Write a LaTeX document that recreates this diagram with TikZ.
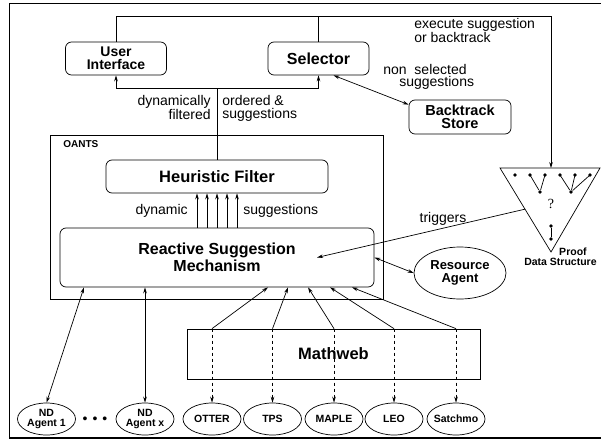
\documentclass[tikz,border=0pt]{standalone}
\usepackage{fontspec}
\setmainfont{Liberation Sans}
\newfontfamily\serifq{Liberation Serif}
\usetikzlibrary{shapes.geometric, positioning, calc, arrows.meta}

\begin{document}
\begin{tikzpicture}[x=1pt, y=-1pt, line width=0.7pt,
    >={Stealth[length=6pt, width=3.6pt]},
    box/.style={draw, rounded corners=6pt, align=center, inner sep=0pt},
    agent/.style={draw, ellipse, minimum width=58pt, minimum height=32pt, inner xsep=-4pt, inner ysep=0pt, align=center, font={\fontsize{10.5}{10}\selectfont\bfseries}},
    lbl/.style={inner sep=0pt, font={\fontsize{14}{13}\selectfont}},
    pt/.style={circle, fill, inner sep=0pt, minimum size=3.8pt}
    ]

    \useasboundingbox (0,0) rectangle (601,441);

    % Frame
    \draw (606,3) -| (9,438);
    \draw[line width=1.4pt] (9,438) -- (606,438);

    % Top boxes
    \node[box, minimum width=101pt, minimum height=33pt, font={\fontsize{14}{13}\selectfont\bfseries}] (ui) at (116,58.5) {User\\Interface};
    \node[box, minimum width=101pt, minimum height=33pt, font={\fontsize{16}{16}\selectfont\bfseries}] (sel) at (318.5,58.5) {Selector};
    \node[box, minimum width=102pt, minimum height=34pt, font={\fontsize{14.5}{13.5}\selectfont\bfseries}] (bt) at (460,117) {Backtrack\\Store};

    % OANTS
    \node[draw, minimum width=333pt, minimum height=164pt, inner sep=0pt] (oants) at (216.5,217) {};
    \node[anchor=base west, inner sep=0pt, font={\fontsize{10}{10}\selectfont\bfseries}] (oantsname) at (63,147) {OANTS};
    \node[box, minimum width=222pt, minimum height=33pt, font={\fontsize{16.5}{16.5}\selectfont\bfseries}] (hf) at (217,176.5) {Heuristic Filter};
    \node[box, minimum width=314pt, minimum height=59pt, font={\fontsize{16}{17}\selectfont\bfseries}] (rsm) at (217,257.5) {Reactive Suggestion\\Mechanism};

    \node[draw, ellipse, minimum width=92pt, minimum height=52pt, inner sep=0pt, align=center, font={\fontsize{13}{13}\selectfont\bfseries}] (ra) at (460,273) {Resource\\Agent};
    \node[draw, minimum width=293pt, minimum height=50pt, font={\fontsize{16.5}{16.5}\selectfont\bfseries}] (mw) at (333.5,354) {Mathweb};

    % Agents
    \node[agent] (nd1) at (46.5,419) {ND\\Agent 1};
    \node[inner sep=0pt, font={\fontsize{14}{14}\selectfont}] (more) at (95,420) {\textbullet\hspace{5pt}\textbullet\hspace{5pt}\textbullet};
    \node[agent] (ndx) at (145,419) {ND\\Agent x};
    \node[agent] (otter) at (212,419) {OTTER};
    \node[agent] (tps) at (272.5,419) {TPS};
    \node[agent] (maple) at (334,419) {MAPLE};
    \node[agent] (leo) at (394,419) {LEO};
    \node[agent] (satchmo) at (456,419) {Satchmo};

    % Proof data structure
    \coordinate (tl) at (500,168);
    \coordinate (tr) at (600,168);
    \coordinate (tip) at (551,252);
    \draw (tl) -- (tr) -- (tip) -- cycle;
    \coordinate (pdtop) at (551,168);
    \coordinate (pdleft) at ($(tl)!0.49!(tip)$);
    \foreach \x in {515,530,545,560,575,590}
        \node[pt] at (\x,175) {};
    \node[pt] (ja) at (540,192) {};
    \node[pt] (jb) at (571,192) {};
    \draw (530,175) -- (ja) -- (545,175);
    \draw (560,175) -- (jb) -- (575,175);
    \draw (jb) -- (590,175);
    \node[pt] (ba) at (551,226) {};
    \node[pt] (bb) at (551,239) {};
    \draw (ba) -- (bb);
    \node[inner sep=0pt, font={\serifq\fontsize{14}{14}\selectfont}] (q) at (551,204) {?};
    \node[anchor=north east, align=right, inner sep=0pt, font={\fontsize{10.5}{10}\selectfont\bfseries}] (pdname) at (597,248) {Proof\hspace*{10pt}\\Data Structure};

    % Arrows
    \draw[->] (ui.north) |- (551,16) -- (pdtop);
    \draw (sel.north) -- ++(0,-26);
    \coordinate (split) at (217,88);
    \draw (hf.north) -- (split);
    \draw[->] (split) -| (ui.south);
    \draw[->] (split) -| (sel.south);
    \draw[<->] ($(sel.south)+(15,0)$) -- ($(bt.north west)+(0,5)$);
    \foreach \d in {-20,-10,0,10,20}
        \draw[->] ($(rsm.north)+(\d,0)$) -- ($(hf.south)+(\d,0)$);
    \draw[->] (pdleft) -- ($(rsm.center)+(100,0)$);
    \draw[<->] (rsm.east) -- (ra.west);
    \draw[<->] (nd1.north) -- ($(rsm.south)+(-133,0)$);
    \draw[<->] (ndx.north) -- (rsm.south -| ndx);
    \foreach \p/\o in {otter/51, tps/71, maple/91, leo/113, satchmo/135} {
        \draw[->] (mw.north -| \p) -- ($(rsm.south)+(\o,0)$);
        \draw[->, dashed] (mw.north -| \p) -- (\p.north);
    }

    % Labels
    \node[lbl, anchor=north east, align=right] (dynfilt) at (211,95) {dynamically\\filtered};
    \node[lbl, anchor=north west, align=left] (ordsugg) at (222,95) {ordered \&\\suggestions};
    \node[lbl, anchor=north west, align=left, font={\fontsize{14}{12.5}\selectfont}] (exec) at (414,18) {execute suggestion\\or backtrack};
    \node[lbl, anchor=north west, align=left, font={\fontsize{14}{12.5}\selectfont}] (nonsel) at (383,64) {non\ \ selected\\\hspace*{16pt}suggestions};
    \node[lbl, anchor=base east] (dyn) at (188,214) {dynamic};
    \node[lbl, anchor=base west] (sugg) at (243,214) {suggestions};
    \node[lbl, anchor=base] (trig) at (443,222) {triggers};

\end{tikzpicture}
\end{document}
